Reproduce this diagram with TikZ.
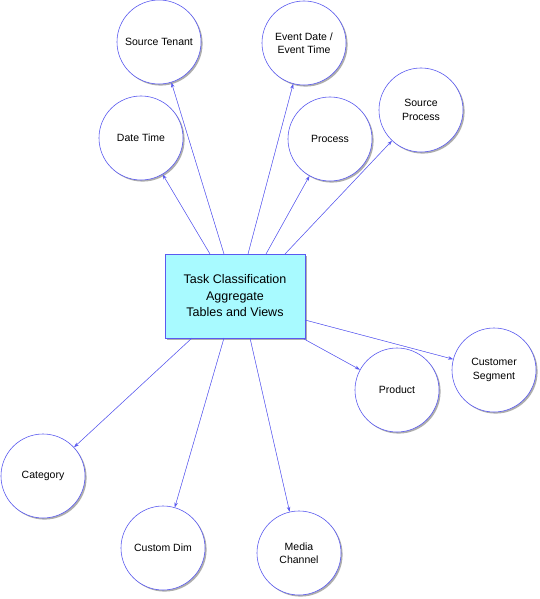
\documentclass[tikz,border=0pt]{standalone}
\usepackage{fontspec}
\setmainfont{Liberation Sans}
\usetikzlibrary{shadows,arrows.meta}
\definecolor{lineblue}{HTML}{5A5AF0}
\definecolor{boxcyan}{HTML}{A8FAFF}
\tikzset{
  ent/.style={circle, draw=lineblue, fill=white, line width=0.6pt, minimum size=84pt, inner sep=0pt,
    align=center, font=\fontsize{10.5}{13.5}\selectfont,
    drop shadow={shadow xshift=1.6pt, shadow yshift=-1.6pt, fill=black!45, opacity=0.7}},
  mainbox/.style={rectangle, draw=lineblue, fill=boxcyan, line width=0.6pt, minimum width=140pt, minimum height=84pt,
    align=center, font=\fontsize{12.5}{16.5}\selectfont,
    drop shadow={shadow xshift=1.6pt, shadow yshift=-1.6pt, fill=black!45, opacity=0.7}},
  link/.style={draw=lineblue, line width=0.5pt, -{Stealth[length=5pt,width=3.5pt]}, fill=lineblue}
}
\begin{document}
\begin{tikzpicture}[x=1pt,y=-1pt]
\useasboundingbox (0,0) rectangle (539,599);
\fill[white] (0,0) rectangle (539,599);
\node[mainbox] (box) at (235,296) {Task Classification\\Aggregate\\Tables and Views};
\node[ent] (st) at (159,42) {Source Tenant};
\node[ent] (ed) at (304,43) {Event Date /\\Event Time};
\node[ent] (dt) at (141,138) {Date Time};
\node[ent] (pr) at (330,139) {Process};
\node[ent] (sp) at (421,110) {Source\\Process};
\node[ent] (cs) at (494,370) {Customer\\Segment};
\node[ent] (pd) at (397,390) {Product};
\node[ent] (ca) at (43,476) {Category};
\node[ent] (cd) at (163,548) {Custom Dim};
\node[ent] (mc) at (299,553) {Media\\Channel};
\coordinate (a1) at (210,254);
\coordinate (a2) at (224,254);
\coordinate (a3) at (248,254);
\coordinate (a4) at (266,254);
\coordinate (a5) at (285,254);
\coordinate (a6) at (305,320);
\coordinate (a7) at (304,339);
\coordinate (a8) at (192,338);
\coordinate (a9) at (224,338);
\coordinate (a10) at (250,338);
\draw[link] (a1) -- (dt);
\draw[link] (a2) -- (st);
\draw[link] (a3) -- (ed);
\draw[link] (a4) -- (pr);
\draw[link] (a5) -- (sp);
\draw[link] (a6) -- (cs);
\draw[link] (a7) -- (pd);
\draw[link] (a8) -- (ca);
\draw[link] (a9) -- (cd);
\draw[link] (a10) -- (mc);
\end{tikzpicture}
\end{document}
